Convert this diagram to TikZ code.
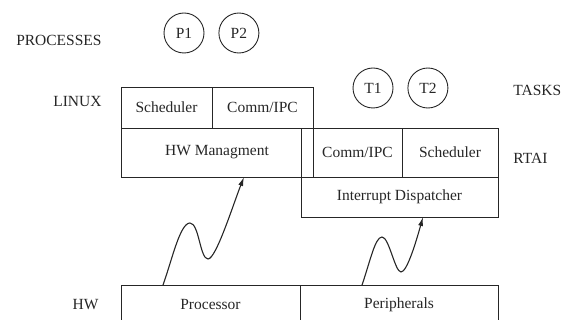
\documentclass[tikz,border=0pt]{standalone}
\usepackage{fontspec}
\setmainfont{Liberation Serif}
\usepackage{tikz}
\usetikzlibrary{arrows.meta,positioning}
\tikzset{
	cell/.style={draw, align=center, inner sep=0pt},
	layer/.style={inner sep=0pt},
	task/.style={draw, circle, minimum size=40pt, inner sep=0pt},
	wave/.style={-{Latex[length=9pt,width=5pt]}, line width=1.1pt}
}
\begin{document}
\begin{tikzpicture}[
			x=1pt, y=-1pt, node distance=14pt,
			font=\fontsize{15.5}{18}\selectfont, line width=0.9pt, color=black!85
			]
			\useasboundingbox (0,0) rectangle (565,320);
			
			\node[layer, anchor=east] (lproc) at (102,40) {PROCESSES};
			\node[layer, anchor=east] (llinux) at (102,102) {LINUX};
			\node[layer, anchor=east] (lhw) at (99,305) {HW};
			\node[layer, anchor=west] (ltask) at (513,90) {TASKS};
			\node[layer, anchor=west] (lrtai) at (513,158) {RTAI};
			
			\node[task] (p1) at (184,33) {P1};
			\node[task, right=of p1] (p2) {P2};
			\node[task] (t1) at (373,88) {T1};
			\node[task, right=of t1] (t2) {T2};
			
			\node[cell, minimum width=197pt, minimum height=89pt] (rtai) at (399.5,172.5) {};
			\node[cell, minimum width=89pt, minimum height=49pt] (rcomm) at (357.5,152.5) {Comm/IPC};
			\node[cell, minimum width=96pt, minimum height=49pt] (rsched) at (450,152.5) {Scheduler};
			\node[cell, minimum width=197pt, minimum height=40pt] (intd) at (399.5,197) {Interrupt Dispatcher};
			
			\node[cell, minimum width=91pt, minimum height=41pt] (lsched) at (166.5,107.5) {Scheduler};
			\node[cell, minimum width=101pt, minimum height=41pt] (lcomm) at (262.5,107.5) {Comm/IPC};
			\node[cell, minimum width=192pt, minimum height=49pt] (hwm) at (217,152.5) {HW Managment};
			
			\node[cell, minimum width=179pt, minimum height=40pt] (cpu) at (210.5,305) {Processor};
			\node[cell, minimum width=198pt, minimum height=40pt] (periph) at (399,305) {Peripherals};
			
			\coordinate (w1s) at (163,285);
			\coordinate (w1e) at (244,177);
			\coordinate (w2s) at (362,285);
			\coordinate (w2e) at (423,217);
			
			\draw[wave] (w1s) .. controls (172,260) and (180,223) .. (190,223)
				.. controls (199,223) and (200,259) .. (208,259)
				.. controls (216,259) and (233,205) .. (w1e);
			\draw[wave] (w2s) .. controls (370,262) and (375,237) .. (382,237)
				.. controls (389,237) and (395,272) .. (401,272)
				.. controls (407,272) and (416,242) .. (w2e);
		\end{tikzpicture}
\end{document}
